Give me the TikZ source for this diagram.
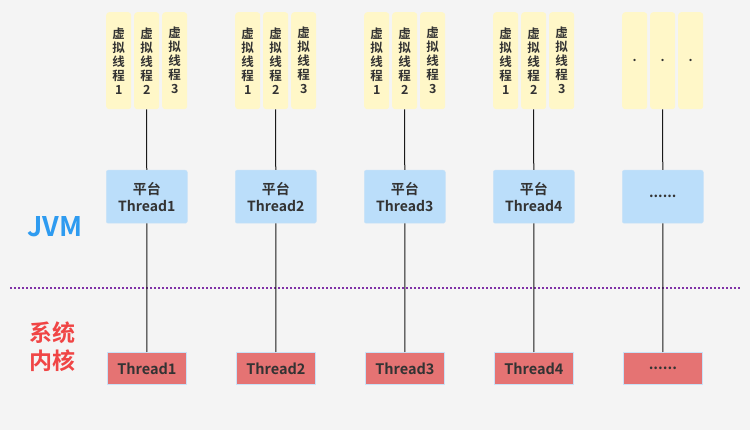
\documentclass[tikz,border=0pt]{standalone}
\usepackage{fontspec}
\setmainfont{Noto Sans CJK SC}[BoldFont={* Bold}]
\begin{document}
\begin{tikzpicture}[x=1pt,y=-1pt,
  vbox/.style={fill=yellowbg,rounded corners=3pt,minimum width=25pt,minimum height=97pt,inner sep=0pt,anchor=north west,align=center,font=\fontsize{12.5}{14}\selectfont\bfseries,text=txt},
  pbox/.style={fill=bluebg,draw=bluebd,line width=0.5pt,rounded corners=2pt,minimum width=81pt,minimum height=53pt,inner sep=0pt,anchor=north west,align=center,font=\fontsize{14}{17}\selectfont\bfseries,text=txt},
  kbox/.style={fill=redbg,draw=bluebd,line width=0.8pt,minimum width=79pt,minimum height=32pt,inner sep=0pt,anchor=north west,font=\fontsize{14.5}{17}\selectfont\bfseries,text=txt},
  link/.style={draw=black!90,line width=1pt}]
\definecolor{bg}{HTML}{F4F4F4}
\definecolor{yellowbg}{HTML}{FFF7C8}
\definecolor{bluebg}{HTML}{BBDEFA}
\definecolor{bluebd}{HTML}{C8E2F8}
\definecolor{redbg}{HTML}{E57373}
\definecolor{txt}{HTML}{333333}
\definecolor{jvmblue}{HTML}{2E9BF0}
\definecolor{kred}{HTML}{F04545}
\definecolor{dotp}{HTML}{8030A8}
\fill[bg] (0,0) rectangle (750,430);
\useasboundingbox (0,0) rectangle (750,430);
% dotted separator
\coordinate (sepL) at (10,288);
\coordinate (sepR) at (740,288);
\draw[dotp,line width=2pt,dash pattern=on 2pt off 2pt] (sepL) -- (sepR);
% labels
\node[font=\fontsize{27}{30}\selectfont\bfseries,text=jvmblue] (jvm) at (55,227) {JVM};
\node[font=\fontsize{23}{28}\selectfont\bfseries,text=kred,align=center] (kern) at (52,347) {系统\\内核};
% groups
\foreach \i/\gx/\name in {1/106/Thread1,2/235/Thread2,3/364/Thread3,4/493/Thread4}{
  \node[vbox] (a\i) at (\gx,12) {虚\\拟\\线\\程\\1};
  \node[vbox] (b\i) at (\gx+28,12) {虚\\拟\\线\\程\\2};
  \node[vbox] (c\i) at (\gx+56,12) {虚\\拟\\线\\程\\3};
  \node[pbox] (p\i) at (\gx,170) {平台\\\name};
  \node[kbox] (k\i) at (\gx+1,352) {\name};
  \draw[link] (b\i.south) -- (p\i.north);
  \draw[link] (p\i.south) -- (k\i.north);
}
\node[vbox] (a5) at (622,12) {.};
\node[vbox] (b5) at (650,12) {.};
\node[vbox] (c5) at (678,12) {.};
\node[pbox] (p5) at (622,170) {......};
\node[kbox] (k5) at (623,352) {......};
\draw[link] (b5.south) -- (p5.north);
\draw[link] (p5.south) -- (k5.north);
\end{tikzpicture}
\end{document}
